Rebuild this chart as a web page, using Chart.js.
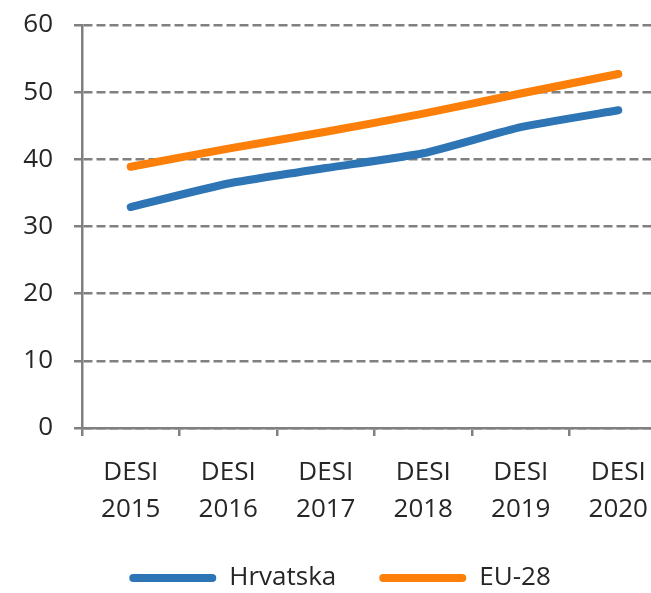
<!DOCTYPE html>
<html>
<head>
<meta charset="utf-8">
<script src="https://cdn.jsdelivr.net/npm/chart.js@4/dist/chart.umd.min.js"></script>
<style>
  html, body { margin: 0; padding: 0; background: #ffffff; overflow: hidden; }
  #wrap { width: 672px; height: 593px; }
</style>
</head>
<body>
<div id="wrap"><canvas id="c" width="672" height="593"></canvas></div>
<script>
const categories = [['DESI', '2015'], ['DESI', '2016'], ['DESI', '2017'], ['DESI', '2018'], ['DESI', '2019'], ['DESI', '2020']];
const hrvatska = [32.9, 36.4, 38.7, 40.9, 44.8, 47.3];
const eu28 = [38.9, 41.6, 44.1, 46.8, 49.8, 52.7];
const seriesNames = ['Hrvatska', 'EU-28'];
const yTicks = { min: 0, max: 60, step: 10 };

const FONT = "'Open Sans', sans-serif";
const GRID = '#808080';
const TEXT = '#262626';
const BLUE = '#2E75B6';
const ORANGE = '#FB7F08';

new Chart(document.getElementById('c'), {
  type: 'line',
  data: {
    labels: categories,
    datasets: [
      { label: seriesNames[0], data: hrvatska, borderColor: BLUE, backgroundColor: BLUE,
        borderWidth: 8, pointRadius: 0, tension: 0.15, borderCapStyle: 'round', borderJoinStyle: 'round' },
      { label: seriesNames[1], data: eu28, borderColor: ORANGE, backgroundColor: ORANGE,
        borderWidth: 8, pointRadius: 0, tension: 0.15, borderCapStyle: 'round', borderJoinStyle: 'round' }
    ]
  },
  options: {
    responsive: false,
    animation: false,
    events: [],
    layout: { padding: { left: 13, right: 5, top: 25, bottom: -8 } },
    plugins: {
      tooltip: { enabled: false },
      legend: {
        position: 'bottom',
        labels: {
          font: { family: FONT, size: 26 },
          color: TEXT,
          boxWidth: 87,
          boxHeight: 8,
          padding: 43,
          generateLabels(chart) {
            return chart.data.datasets.map((ds, i) => ({
              text: ds.label,
              fillStyle: ds.borderColor,
              strokeStyle: ds.borderColor,
              lineWidth: 0,
              borderRadius: 4,
              fontColor: TEXT,
              hidden: false,
              datasetIndex: i
            }));
          }
        }
      }
    },
    scales: {
      x: {
        offset: true,
        afterFit(scale) { scale.height = 94; },
        grid: { display: true, drawOnChartArea: false, drawTicks: true, tickLength: 8, offset: true,
                color: GRID, lineWidth: 2.5, tickWidth: 2.5, tickColor: GRID },
        border: { display: true, color: GRID, width: 2.5 },
        ticks: { font: { family: FONT, size: 26, lineHeight: 37 / 26 }, color: TEXT, padding: 18,
                 maxRotation: 0, autoSkip: false }
      },
      y: {
        min: yTicks.min, max: yTicks.max,
        afterFit(scale) { scale.width = 69; scale.paddingTop = 0; scale.paddingBottom = 0; },
        grid: { color: GRID, lineWidth: 2.5, tickLength: 8, drawTicks: true, tickWidth: 2.5, tickColor: GRID, tickBorderDash: [] },
        border: { display: true, color: GRID, width: 2.5, dash: [9, 4] },
        ticks: { stepSize: yTicks.step, font: { family: FONT, size: 26 }, color: TEXT, padding: 21 }
      }
    }
  }
});
</script>
</body>
</html>
